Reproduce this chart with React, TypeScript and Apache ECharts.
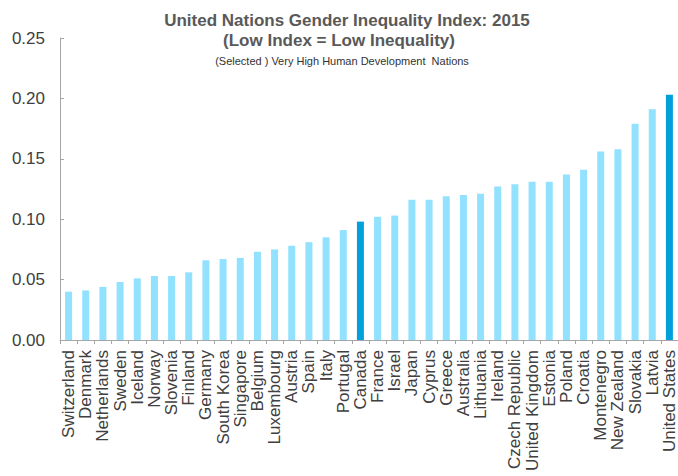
import React, { useEffect, useRef } from "react";
import * as echarts from "echarts";

const countries = [
  "Switzerland", "Denmark", "Netherlands", "Sweden", "Iceland", "Norway", "Slovenia", "Finland",
  "Germany", "South Korea", "Singapore", "Belgium", "Luxembourg", "Austria", "Spain", "Italy",
  "Portugal", "Canada", "France", "Israel", "Japan", "Cyprus", "Greece", "Australia",
  "Lithuania", "Ireland", "Czech Republic", "United Kingdom", "Estonia", "Poland", "Croatia",
  "Montenegro", "New Zealand", "Slovakia", "Latvia", "United States",
];

const giiValues = [
  0.040, 0.041, 0.044, 0.048, 0.051, 0.053, 0.053, 0.056,
  0.066, 0.067, 0.068, 0.073, 0.075, 0.078, 0.081, 0.085,
  0.091, 0.098, 0.102, 0.103, 0.116, 0.116, 0.119, 0.120,
  0.121, 0.127, 0.129, 0.131, 0.131, 0.137, 0.141,
  0.156, 0.158, 0.179, 0.191, 0.203,
];

const highlighted = ["Canada", "United States"];

const yTicks = [0, 0.05, 0.1, 0.15, 0.2, 0.25];

const titleLines = [
  "United Nations Gender Inequality Index: 2015",
  "(Low Index = Low Inequality)",
];
const subtitle = "(Selected ) Very High Human Development  Nations";

export default function App() {
  const ref = useRef<HTMLDivElement>(null);

  useEffect(() => {
    if (!ref.current) return;
    const chart = echarts.init(ref.current, undefined, { renderer: "svg" });
    const font = "'Liberation Sans', Arial, sans-serif";
    chart.setOption({
      animation: false,
      backgroundColor: "#ffffff",
      grid: { left: 60, right: -2, top: 38, bottom: 136 },
      graphic: [
        {
          type: "text",
          x: 347,
          y: 20,
          style: {
            text: titleLines[0],
            font: `bold 17px ${font}`,
            fill: "#595959",
            textAlign: "center",
            textVerticalAlign: "middle",
          },
        },
        {
          type: "text",
          x: 339,
          y: 40,
          style: {
            text: titleLines[1],
            font: `bold 17px ${font}`,
            fill: "#595959",
            textAlign: "center",
            textVerticalAlign: "middle",
          },
        },
        {
          type: "text",
          x: 342,
          y: 61,
          style: {
            text: subtitle,
            font: `11px 'Liberation Sans Narrow', 'Arial Narrow', ${font}`,
            fill: "#333333",
            textAlign: "center",
            textVerticalAlign: "middle",
          },
        },
      ],
      xAxis: {
        type: "category",
        data: countries,
        boundaryGap: true,
        axisLine: { lineStyle: { color: "#a6a6a6", width: 1 } },
        axisTick: { show: true, interval: 0, length: 4, lineStyle: { color: "#a6a6a6" } },
        axisLabel: {
          interval: 0,
          rotate: 90,
          color: "#404040",
          fontSize: 17,
          fontFamily: font,
          margin: 10,
        },
      },
      yAxis: {
        type: "value",
        min: 0,
        max: 0.25,
        interval: 0.05,
        splitLine: { show: false },
        axisLine: { show: true, lineStyle: { color: "#a6a6a6", width: 1 } },
        axisTick: { show: true, inside: true, length: 4, lineStyle: { color: "#a6a6a6" } },
        axisLabel: {
          color: "#404040",
          fontSize: 17,
          fontFamily: font,
          margin: 15,
          formatter: (v: number) => (yTicks.some((t) => Math.abs(t - v) < 1e-9) ? v.toFixed(2) : ""),
        },
      },
      series: [
        {
          type: "bar",
          barWidth: 7,
          data: giiValues.map((v, i) => ({
            value: v,
            itemStyle: {
              color: highlighted.includes(countries[i]) ? "#00a0dc" : "#91e1ff",
            },
          })),
        },
      ],
    });
    return () => chart.dispose();
  }, []);

  return (
    <div
      ref={ref}
      style={{ position: "fixed", left: 0, top: 0, width: 678, height: 476 }}
    />
  );
}
